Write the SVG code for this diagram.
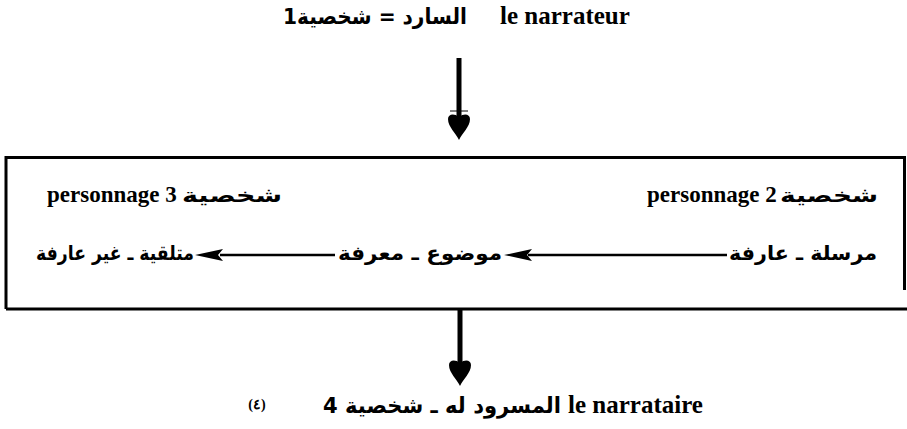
<svg xmlns="http://www.w3.org/2000/svg" width="907" height="429" viewBox="0 0 907 429">
<style>
.lat{font-family:"Liberation Serif","Times New Roman",serif;font-weight:bold;fill:#000}
.ar{font-family:"DejaVu Sans","Noto Sans",sans-serif;font-weight:bold;fill:#000}
.ln{stroke:#000;fill:none}
.hd{fill:#000;stroke:none}
</style>
<defs>
<path id="vhead" d="M0,0 C-3,-7 -11,-13 -11,-21 C-11,-26 -5,-27 0,-23 C5,-27 11,-26 11,-21 C11,-13 3,-7 0,0 Z"/>
<path id="hhead" d="M0,0 L28,-6 L23,0 L28,6 Z"/>
</defs>
<rect width="907" height="429" fill="#fff"/>

<g id="narrator">
<text class="ar" x="375" y="24" font-size="22" text-anchor="middle" direction="rtl" textLength="184" lengthAdjust="spacingAndGlyphs">السارد = شخصية1</text>
<text class="lat" x="500" y="24" font-size="25">le narrateur</text>
</g>

<g id="box">
<path class="ln" stroke-width="3" d="M6,309 L6,157.5 L904.5,157.5 L904.5,290 M6,309 L907,309"/>
</g>

<g id="character3">
<text class="lat" x="47" y="202" font-size="23">personnage 3</text>
<text class="ar" x="232" y="202" font-size="20" text-anchor="middle" direction="rtl" textLength="100" lengthAdjust="spacingAndGlyphs">شخصية</text>
</g>

<g id="character2">
<text class="lat" x="647" y="202" font-size="23">personnage 2</text>
<text class="ar" x="829" y="202" font-size="20" text-anchor="middle" direction="rtl" textLength="98" lengthAdjust="spacingAndGlyphs">شخصية</text>
</g>

<g id="sender">
<text class="ar" x="803" y="260" font-size="20" text-anchor="middle" direction="rtl" textLength="148" lengthAdjust="spacingAndGlyphs">مرسلة ـ عارفة</text>
</g>

<g id="object">
<text class="ar" x="420" y="260" font-size="20" text-anchor="middle" direction="rtl" textLength="164" lengthAdjust="spacingAndGlyphs">موضوع ـ معرفة</text>
</g>

<g id="receiver">
<text class="ar" x="115" y="260" font-size="20" text-anchor="middle" direction="rtl" textLength="158" lengthAdjust="spacingAndGlyphs">متلقية ـ غير عارفة</text>
</g>

<g id="narratee">
<text class="lat" x="257" y="409" font-size="14" text-anchor="middle">(٤)</text>
<text class="ar" x="442" y="413" font-size="22" text-anchor="middle" direction="rtl" textLength="238" lengthAdjust="spacingAndGlyphs">المسرود له ـ شخصية 4</text>
<text class="lat" x="568" y="413" font-size="25">le narrataire</text>
</g>

<g id="connectors">
<line class="ln" x1="459" y1="58" x2="459" y2="122" stroke-width="5"/>
<line class="ln" x1="450" y1="111" x2="468" y2="111" stroke-width="1"/>
<use href="#vhead" x="459" y="140"/>
<line class="ln" x1="460" y1="309" x2="460" y2="366" stroke-width="5"/>
<use href="#vhead" x="460" y="386"/>
<line class="ln" x1="528" y1="255" x2="727" y2="255" stroke-width="2.5"/>
<use href="#hhead" x="504" y="255"/>
<line class="ln" x1="220" y1="255" x2="335" y2="255" stroke-width="2.5"/>
<use href="#hhead" x="195" y="255"/>
</g>
</svg>
